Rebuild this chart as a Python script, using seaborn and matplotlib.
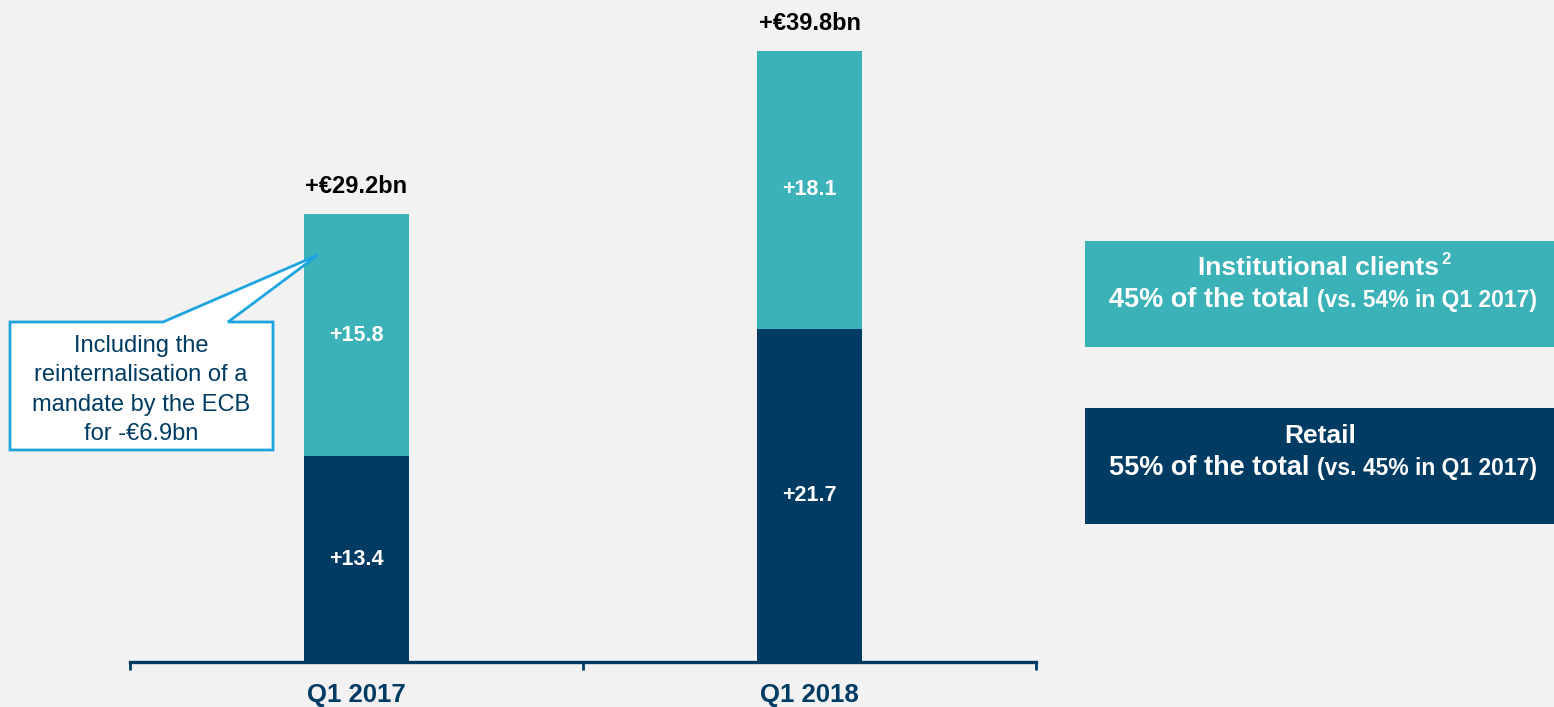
import matplotlib
matplotlib.use("Agg")
import matplotlib.pyplot as plt
import seaborn as sns
import pandas as pd
from matplotlib.patches import Rectangle, Polygon

categories = ["Q1 2017", "Q1 2018"]
retail = [13.4, 21.7]
institutional = [15.8, 18.1]
total_labels = ["+€29.2bn", "+€39.8bn"]
retail_labels = ["+13.4", "+21.7"]
inst_labels = ["+15.8", "+18.1"]

TEAL = "#3ab2b8"
NAVY = "#003b63"
BG = "#f2f2f2"
CALLOUT = "#1ea5e0"

sns.set_theme(style="white")
plt.rcParams["font.family"] = ["Liberation Sans", "DejaVu Sans"]

W, H = 1554, 707
fig = plt.figure(figsize=(W / 100, H / 100), dpi=100, facecolor=BG)

def fx(px):
    return px / W

def fy(py):
    return 1 - py / H

ax_left, ax_right, ax_bottom = 130, 1036, 662
ymax = 42.0
ppu = 15.35
ax_top = ax_bottom - ymax * ppu
ax = fig.add_axes([fx(ax_left), fy(ax_bottom), fx(ax_right - ax_left), (ax_bottom - ax_top) / H])
ax.set_facecolor(BG)

totals = [r + i for r, i in zip(retail, institutional)]
df = pd.DataFrame({"cat": categories, "retail": retail, "inst": institutional, "total": totals})

sns.barplot(data=df, x="cat", y="total", color=TEAL, width=0.23, ax=ax, saturation=1, linewidth=0)
sns.barplot(data=df, x="cat", y="retail", color=NAVY, width=0.23, ax=ax, saturation=1, linewidth=0)

ax.set_xlim(-0.5, 1.5)
ax.set_ylim(0, ymax)
ax.set_xlabel("")
ax.set_ylabel("")
ax.set_yticks([])
for s in ["top", "left", "right"]:
    ax.spines[s].set_visible(False)
ax.spines["bottom"].set_color(NAVY)
ax.spines["bottom"].set_linewidth(2.4)
ax.set_xticks([0, 1])
ax.set_xticklabels(categories, fontsize=18.5, fontweight="bold", color=NAVY)
ax.tick_params(axis="x", which="major", bottom=True, length=0, pad=15)
ax.set_xticks([-0.5, 0.5, 1.5], minor=True)
ax.tick_params(axis="x", which="minor", bottom=True, length=6, width=2, color=NAVY, direction="out")

for i in range(len(categories)):
    ax.annotate(total_labels[i], (i, totals[i]), xytext=(0, 20), textcoords="offset points",
                ha="center", va="center", fontsize=17, fontweight="bold", color="black")
    ax.text(i, retail[i] / 2, retail_labels[i], ha="center", va="center",
            fontsize=15.5, fontweight="bold", color="white")
    ax.text(i, retail[i] + institutional[i] / 2, inst_labels[i], ha="center", va="center",
            fontsize=15.5, fontweight="bold", color="white")

# callout
pts = [(10, 322), (163, 322), (318, 255), (228, 322), (273, 322), (273, 450), (10, 450)]
poly = Polygon([(fx(x), fy(y)) for x, y in pts], closed=True, transform=fig.transFigure,
               facecolor="white", edgecolor=CALLOUT, linewidth=2, zorder=5)
fig.patches.append(poly)
fig.text(fx(141), fy(390), "Including the\nreinternalisation of a\nmandate by the ECB\nfor -€6.9bn",
         ha="center", va="center", fontsize=17, color=NAVY, linespacing=1.45, zorder=6)

# legend boxes
fig.patches.append(Rectangle((fx(1085), fy(347)), fx(W - 1085), (347 - 241) / H,
                             transform=fig.transFigure, facecolor=TEAL, edgecolor="none"))
fig.patches.append(Rectangle((fx(1085), fy(524)), fx(W - 1085), (524 - 408) / H,
                             transform=fig.transFigure, facecolor=NAVY, edgecolor="none"))
fig.text(fx(1318), fy(268), "Institutional clients", ha="center", va="center",
         fontsize=19, fontweight="bold", color="white")
fig.text(fx(1441), fy(259), "2", ha="left", va="center",
         fontsize=12, fontweight="bold", color="white")
fig.text(fx(1317), fy(300), "45% of the total ", ha="right", va="center",
         fontsize=19.5, fontweight="bold", color="white")
fig.text(fx(1317), fy(300), "(vs. 54% in Q1 2017)", ha="left", va="center",
         fontsize=16.5, fontweight="bold", color="white")
fig.text(fx(1320), fy(436), "Retail", ha="center", va="center",
         fontsize=19, fontweight="bold", color="white")
fig.text(fx(1317), fy(468), "55% of the total ", ha="right", va="center",
         fontsize=19.5, fontweight="bold", color="white")
fig.text(fx(1317), fy(468), "(vs. 45% in Q1 2017)", ha="left", va="center",
         fontsize=16.5, fontweight="bold", color="white")

fig.savefig("out.png", dpi=100, facecolor=BG)
